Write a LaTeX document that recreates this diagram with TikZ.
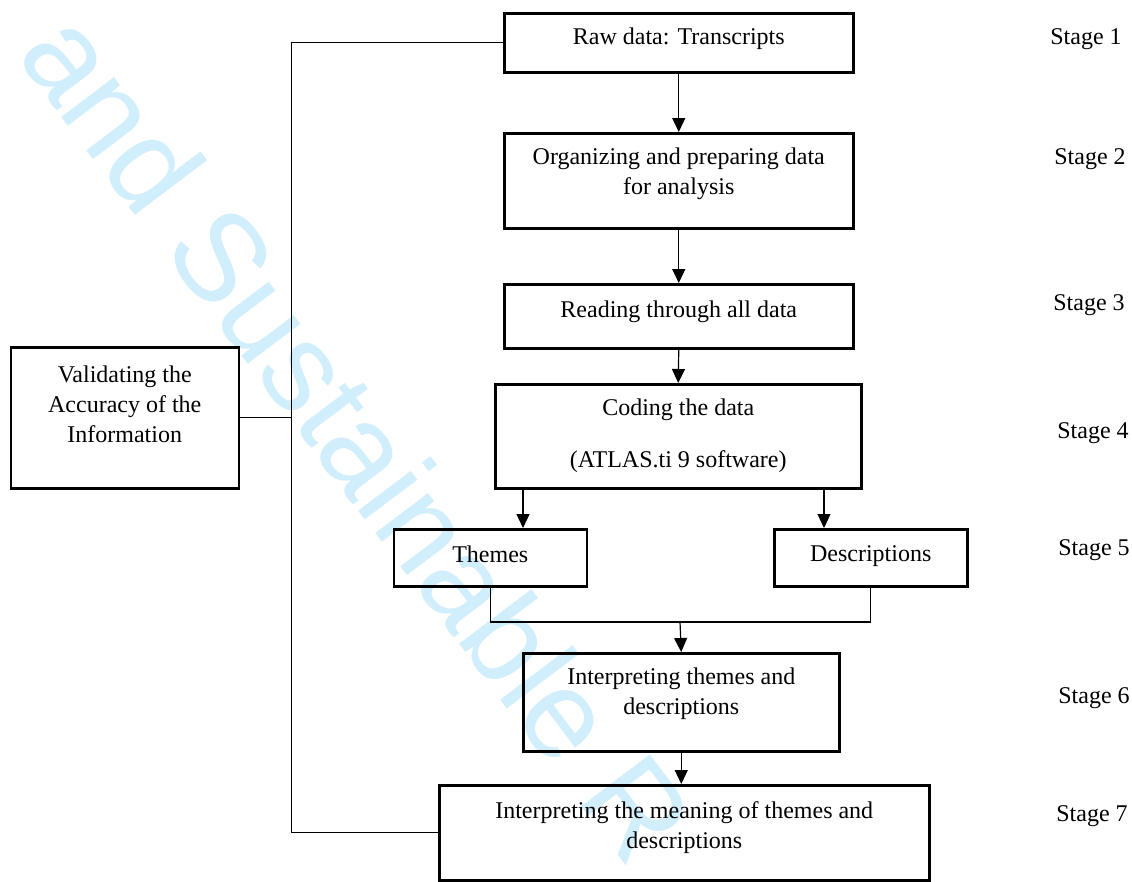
\documentclass[tikz,border=0pt]{standalone}
\usepackage{fontspec}
\setmainfont{Liberation Serif}
\newfontfamily\wmfont{Liberation Sans}
\usetikzlibrary{arrows.meta,calc}

\definecolor{wmblue}{RGB}{208,238,252}

\tikzset{
  stepbox/.style={draw, line width=2.5pt, inner sep=0pt, anchor=north west},
  steptext/.style={font=\fontsize{24pt}{30pt}\selectfont, align=center,
                   inner sep=0pt, anchor=north},
  stagelbl/.style={font=\fontsize{24pt}{30pt}\selectfont, inner sep=0pt, anchor=base},
  link/.style={line width=1.2pt},
  arr/.style={link, -{Triangle[width=13pt,length=14pt]}},
}

\begin{document}
\begin{tikzpicture}[x=1pt, y=-1pt]
  % page
  \useasboundingbox (0,0) rectangle (1132,881);
  \fill[white] (0,0) rectangle (1132,881);

  % background stamp
  \node[rotate=-53, anchor=base west, inner sep=0pt, text=wmblue,
        font=\wmfont\fontsize{125pt}{125pt}\selectfont] (stamp) at (15,55)
        {and Sustainable R};

  % process boxes
  \node[stepbox, minimum width=349pt, minimum height=59pt]  (raw)     at (503,12)   {};
  \node[stepbox, minimum width=349pt, minimum height=95pt]  (org)     at (503,132)  {};
  \node[stepbox, minimum width=349pt, minimum height=64pt]  (read)    at (503,283)  {};
  \node[stepbox, minimum width=366pt, minimum height=104pt] (code)    at (494,383)  {};
  \node[stepbox, minimum width=193pt, minimum height=57pt]  (themes)  at (392.5,528){};
  \node[stepbox, minimum width=193pt, minimum height=57pt]  (desc)    at (773,528)  {};
  \node[stepbox, minimum width=316pt, minimum height=98pt]  (interp)  at (522,652)  {};
  \node[stepbox, minimum width=490pt, minimum height=95pt]  (meaning) at (438,784)  {};
  \node[stepbox, minimum width=228pt, minimum height=141pt] (valid)   at (9.5,346)  {};

  % box texts
  \node[steptext] (raw-t)     at ([yshift=-15.5pt]raw.north)     {Raw data: Transcripts};
  \node[steptext] (org-t)     at ([yshift=-15.5pt]org.north)     {Organizing and preparing data\\for analysis};
  \node[steptext] (read-t)    at ([yshift=-17.5pt]read.north)    {Reading through all data};
  \node[steptext] (code-t)    at ([yshift=-15.5pt]code.north)    {Coding the data\\[22pt](ATLAS.ti 9 software)};
  \node[steptext] (themes-t)  at ([yshift=-17.5pt]themes.north)  {Themes};
  \node[steptext] (desc-t)    at ([yshift=-17.5pt]desc.north)    {Descriptions};
  \node[steptext] (interp-t)  at ([yshift=-15.5pt]interp.north)  {Interpreting themes and\\descriptions};
  \node[steptext] (meaning-t) at ([yshift=-17.5pt]meaning.north) {Interpreting the meaning of themes and\\descriptions};
  \node[steptext] (valid-t)   at ([yshift=-19.5pt]valid.north)   {Validating the\\Accuracy of the\\Information};

  % stage labels
  \node[stagelbl] (s1) at (1086,44)  {Stage 1};
  \node[stagelbl] (s2) at (1090,164) {Stage 2};
  \node[stagelbl] (s3) at (1089,310) {Stage 3};
  \node[stagelbl] (s4) at (1093,438) {Stage 4};
  \node[stagelbl] (s5) at (1094,555) {Stage 5};
  \node[stagelbl] (s6) at (1094,703) {Stage 6};
  \node[stagelbl] (s7) at (1092,821) {Stage 7};

  % helper coordinates
  \coordinate (tA)    at (523,0);
  \coordinate (dA)    at (824,0);
  \coordinate (merge) at (680,622);
  \coordinate (loopx) at (291.7,0);

  % main flow
  \draw[arr] (raw.south) -- (org.north);
  \draw[arr] (org.south) -- (read.north);
  \draw[arr] (read.south) -- (code.north);
  \draw[arr] (code.south -| tA) -- (themes.north -| tA);
  \draw[arr] (code.south -| dA) -- (desc.north -| dA);
  \draw[link] (themes.south) |- (merge) -| (desc.south);
  \draw[arr] (merge) -- (interp.north);
  \draw[arr] (interp.south) -- (interp.south |- meaning.north);

  % validation loop
  \draw[link] (raw.west) -| (loopx |- meaning.west) -- (meaning.west);
  \draw[link] (valid.east) -- (valid.east -| loopx);
\end{tikzpicture}
\end{document}
